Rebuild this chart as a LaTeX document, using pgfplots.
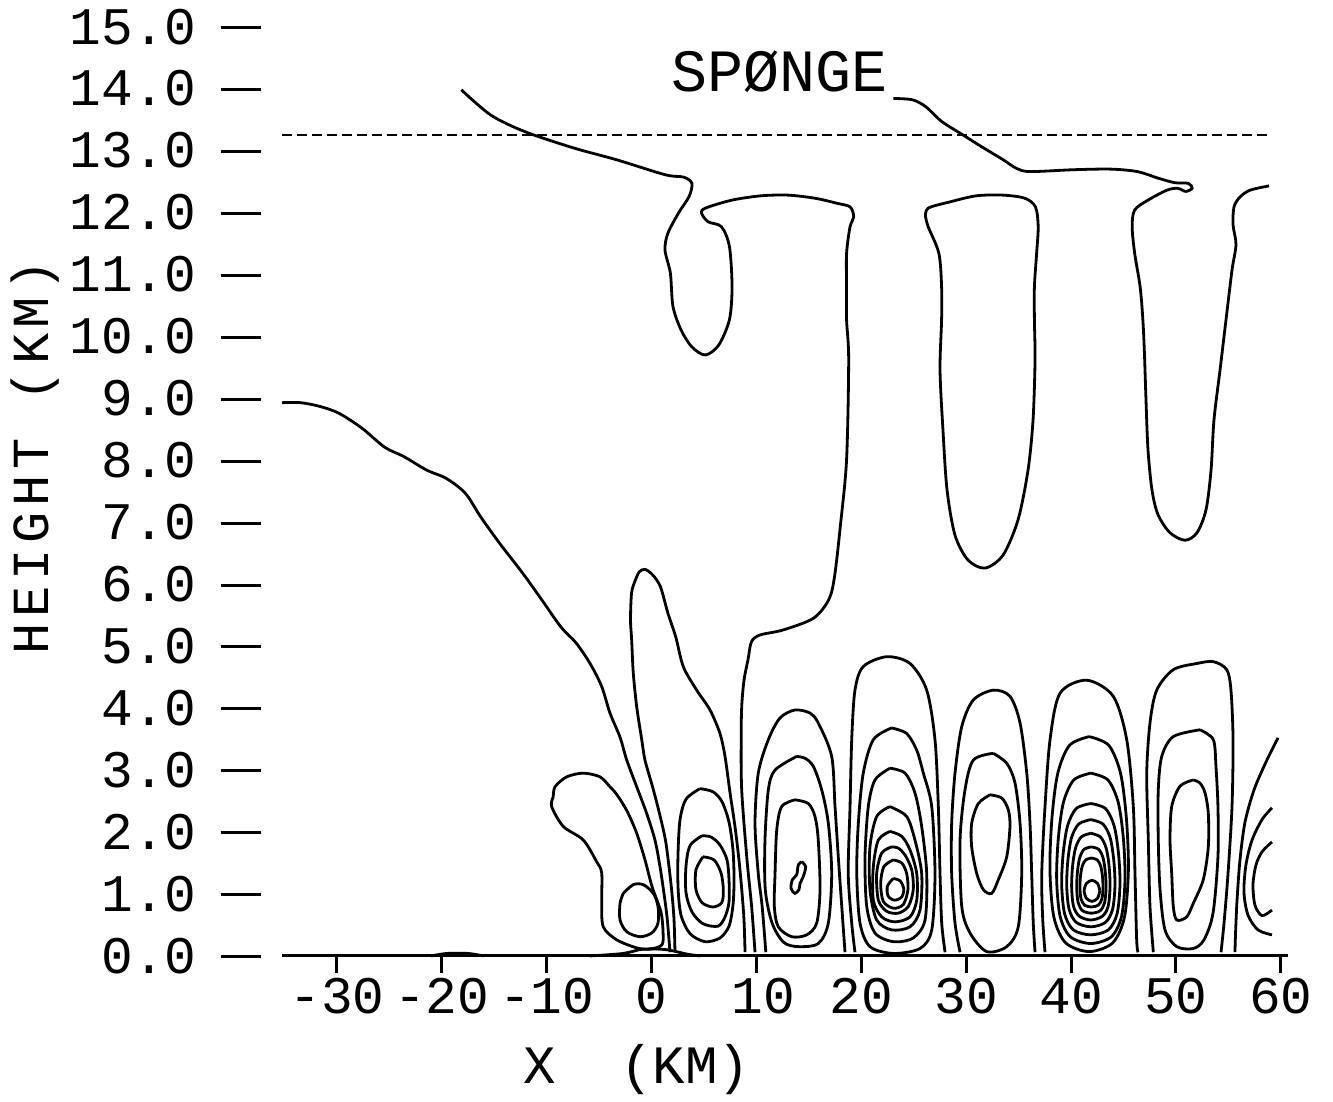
\documentclass[border=0pt]{standalone}
\usepackage{fontspec}
\usepackage{pgfplots}
\pgfplotsset{compat=1.18}
\newfontfamily\plotfont{Liberation Mono}
\newfontfamily\widefont[LetterSpace=11]{Liberation Mono}
\newcommand{\yl}[1]{#1\hspace{12pt}\rule[7.55pt]{20pt}{1.5pt}}
\begin{document}
\begin{tikzpicture}
\begin{axis}[
  at={(0,0)}, anchor=south west,
  scale only axis, width=503pt, height=464.65pt,
  xmin=-35.23, xmax=60.69, ymin=0, ymax=15,
  axis x line*=bottom, axis y line*=left,
  y axis line style={draw=none},
  x axis line style={line width=1.5pt,-},
  xtick={-30,-20,-10,0,10,20,30,40,50,60},
  xticklabels={-30,-20,-10,{0\hspace{12.7pt}},{\hspace{6.7pt}10},20,30,40,50,60},
  ytick={0,1,...,15},
  yticklabels={\yl{0.0},\yl{1.0},\yl{2.0},\yl{3.0},\yl{4.0},\yl{5.0},\yl{6.0},\yl{7.0},\yl{8.0},\yl{9.0},\yl{10.0},\yl{11.0},\yl{12.0},\yl{13.0},\yl{14.0},\yl{15.0}},
  tick align=outside,
  major tick length=8.5pt,
  xtick style={line width=1.5pt,black},
  ytick style={draw=none},
  xticklabel style={font=\plotfont\fontsize{26.4}{30}\selectfont, anchor=north, inner sep=0pt, yshift=-2.5pt},
  yticklabel style={font=\plotfont\fontsize{26.4}{30}\selectfont, anchor=east, inner sep=0pt, xshift=-2pt},
  clip=false,
  cont/.style={black, line width=1.4pt, smooth, tension=0.5, mark=none},
]
% sponge level
\addplot[black, line width=1.4pt, dash pattern=on 5pt off 2.5pt, mark=none] coordinates {(-35.23,13.25) (59.0,13.25)};
% T1: sponge curve, hook, long line and step down to ground
\addplot[cont] coordinates {(-18.13,13.98) (-15.30,13.57) (-12.00,13.30) (-7.39,13.04) (-3.31,12.85) (1.29,12.61) (3.08,12.57) (3.85,12.47) (3.59,12.26) (2.57,11.99) (1.55,11.66) (1.29,11.39) (1.80,11.02) (2.05,10.48) (2.83,10.10) (3.85,9.83) (5.13,9.70) (6.41,9.86) (7.43,10.27) (7.68,10.80) (7.43,11.45) (6.67,11.77) (5.39,11.85) (4.77,11.99) (5.13,12.07) (7.68,12.20) (10.49,12.27) (13.04,12.28) (15.59,12.23) (17.65,12.15) (18.93,12.09) (19.28,11.93) (18.93,11.77) (18.6,11.34) (18.6,10.80) (18.6,10.27) (18.8,9.62) (18.6,8.01) (18.0,6.93) (17.45,6.12) (16.90,5.75) (15.44,5.45) (12.52,5.26) (10.34,5.18) (9.53,5.07) (9.20,4.78) (8.82,4.45) (8.60,4.02) (8.55,3.49) (8.60,2.68) (9.08,1.60) (9.55,0.79) (9.87,0.06)};
% T2: right sponge curve and 51 km finger
\addplot[cont] coordinates {(23.06,13.84) (24.85,13.82) (26.13,13.71) (27.66,13.47) (29.71,13.25) (31.49,13.06) (33.54,12.85) (34.82,12.71) (36.10,12.66) (40.19,12.69) (43.78,12.70) (46.33,12.66) (48.38,12.55) (49.92,12.48) (51.19,12.47) (51.55,12.39) (50.94,12.34) (50.16,12.39) (49.14,12.36) (47.35,12.20) (46.07,12.04) (45.83,11.77) (46.07,11.34) (46.59,10.80) (46.85,10.27) (47.00,9.73) (47.15,8.97) (47.34,8.17) (47.72,7.52) (48.30,7.12) (49.44,6.83) (50.87,6.71) (52.01,6.83) (52.87,7.20) (53.35,7.84) (53.63,8.65) (54.21,9.46) (54.78,10.27) (55.35,11.07) (55.73,11.48) (55.45,11.80) (55.54,12.09) (56.11,12.25) (57.07,12.36) (58.88,12.43)};
% T3: 32 km finger
\addplot[cont] coordinates {(26.13,11.93) (26.38,12.07) (28.43,12.17) (30.99,12.27) (33.54,12.28) (35.59,12.23) (36.61,12.09) (36.87,11.77) (36.72,11.34) (36.51,10.80) (36.51,10.27) (36.57,9.62) (36.38,8.65) (35.90,7.84) (34.95,7.04) (33.52,6.47) (31.80,6.26) (30.18,6.39) (28.94,6.79) (28.18,7.52) (27.79,8.49) (27.51,9.46) (27.66,10.27) (27.66,10.80) (27.40,11.34) (26.38,11.77) (26.13,11.93)};
% L1: long curve from the left
\addplot[cont] coordinates {(-35.23,8.93) (-33.46,8.93) (-31.63,8.87) (-29.81,8.76) (-27.62,8.52) (-25.43,8.21) (-23.61,8.06) (-21.42,7.84) (-19.59,7.71) (-17.76,7.47) (-16.30,7.09) (-14.48,6.66) (-12.29,6.18) (-10.47,5.75) (-8.64,5.31) (-7.18,5.05) (-5.86,4.72) (-4.75,4.35) (-3.96,3.92) (-3.00,3.53) (-2.36,3.16) (-1.41,2.73) (-0.46,2.30) (0.33,1.87) (0.81,1.44) (1.19,1.01) (1.48,0.63) (1.67,0.26) (1.76,0.06)};
% finger near x = 0
\addplot[cont] coordinates {(2.24,0.06) (2.15,0.58) (1.95,1.01) (1.67,1.44) (1.33,1.87) (0.76,2.30) (0.10,2.73) (-0.62,3.16) (-0.93,3.49) (-1.41,4.02) (-1.74,4.57) (-1.89,5.10) (-2.00,5.42) (-1.90,5.86) (-1.53,6.07) (-1.16,6.20) (-0.62,6.24) (0.11,6.15) (0.85,5.96) (1.57,5.53) (2.31,5.15) (3.03,4.67) (4.31,4.29) (5.58,3.97) (6.53,3.59) (7.01,3.22) (7.49,2.63) (7.96,2.09) (8.34,1.55) (8.63,1.02) (8.82,0.58) (8.92,0.06)};
% left loop and its small inner loop
\addplot[cont] coordinates {(-9.36,2.57) (-9.20,2.73) (-8.09,2.89) (-6.50,2.95) (-4.91,2.89) (-3.96,2.73) (-3.29,2.60) (-2.34,2.34) (-1.41,1.98) (-0.62,1.55) (0.05,1.12) (0.90,0.71) (1.10,0.39) (1.00,0.18) (-0.14,0.11) (-1.41,0.13) (-3.32,0.26) (-4.60,0.47) (-4.75,0.86) (-4.75,1.34) (-5.23,1.52) (-6.50,1.87) (-8.41,2.09) (-9.52,2.41) (-9.36,2.57)};
\addplot[cont] coordinates {(-2.69,1.01) (-1.74,1.15) (-0.78,1.15) (0.17,1.01) (0.62,0.80) (0.62,0.53) (0.02,0.37) (-1.10,0.31) (-2.36,0.39) (-3.00,0.58) (-3.00,0.85) (-2.69,1.01)};
% low contours along the ground
\addplot[cont] coordinates {(-5.86,0.0) (-2.69,0.04) (-0.78,0.11) (1.45,0.10) (3.36,0.03) (4.62,0.0)};
\addplot[cont] coordinates {(-21.0,0.0) (-19.5,0.04) (-17.5,0.04) (-16.0,0.0)};
% 5 km cell
\addplot[cont] coordinates {(4.62,2.70) (5.86,2.65) (6.72,2.49) (7.39,2.16) (7.77,1.71) (7.87,1.23) (7.77,0.82) (7.39,0.48) (6.53,0.29) (5.10,0.23) (3.67,0.36) (2.81,0.66) (2.53,1.11) (2.53,1.66) (2.72,2.20) (3.29,2.53) (4.62,2.70)};
\addplot[cont] coordinates {(4.82,1.94) (5.67,1.92) (6.53,1.79) (7.20,1.55) (7.39,1.23) (7.39,0.87) (7.01,0.63) (6.34,0.48) (4.91,0.52) (3.86,0.71) (3.29,1.02) (3.29,1.45) (3.67,1.78) (4.82,1.94)};
\addplot[cont] coordinates {(4.91,1.60) (5.96,1.55) (6.63,1.34) (6.85,1.07) (6.70,0.86) (5.86,0.79) (4.82,0.86) (4.24,1.07) (4.24,1.39) (4.91,1.60)};
% 14 km cell
\addplot[cont] coordinates {(10.9,0.06) (10.55,0.80) (10.18,1.33) (9.87,2.14) (10.18,2.95) (11.14,3.49) (12.25,3.84) (13.68,3.97) (15.11,3.92) (15.90,3.76) (17.18,3.22) (17.50,2.41) (17.81,1.60) (18.14,0.80) (18.45,0.06)};
\addplot[cont] coordinates {(13.84,3.22) (14.64,3.19) (15.43,3.06) (16.23,2.68) (16.86,2.14) (17.18,1.33) (16.86,0.53) (15.90,0.20) (14.00,0.15) (12.6,0.22) (11.5,0.53) (10.85,1.07) (10.82,1.87) (11.14,2.68) (11.78,3.00) (13.84,3.22)};
\addplot[cont] coordinates {(13.68,2.52) (14.95,2.46) (15.59,2.25) (15.90,1.87) (16.07,1.07) (15.75,0.53) (14.80,0.34) (13.37,0.31) (12.09,0.47) (11.71,0.80) (11.78,1.33) (11.94,2.03) (12.41,2.41) (13.68,2.52)};
\addplot[cont] coordinates {(14.32,1.52) (14.70,1.44) (14.47,1.28) (14.16,1.17) (14.06,1.07) (13.68,1.01) (13.30,1.09) (13.43,1.23) (13.84,1.31) (14.00,1.47) (14.32,1.52)};
% 23 km cell
\addplot[cont] coordinates {(19.40,0.06) (19.09,0.53) (18.76,1.33) (18.93,2.41) (19.09,3.49) (19.40,4.29) (20.19,4.67) (22.43,4.83) (24.65,4.72) (26.24,4.29) (27.03,3.49) (27.35,2.41) (27.51,1.33) (27.67,0.53) (27.99,0.06)};
\addplot[cont] coordinates {(22.90,3.68) (24.33,3.59) (25.29,3.32) (25.92,2.95) (26.72,2.41) (27.03,1.33) (26.72,0.42) (25.60,0.12) (23.06,0.04) (20.83,0.15) (19.88,0.53) (19.57,1.33) (19.72,2.14) (20.19,2.95) (21.15,3.49) (22.90,3.68)};
\addplot[cont] coordinates {(22.74,3.03) (24.17,2.95) (25.12,2.63) (25.76,2.09) (26.24,1.33) (26.08,0.58) (24.96,0.29) (23.06,0.23) (21.31,0.37) (20.52,0.80) (20.36,1.60) (20.67,2.41) (21.31,2.84) (22.74,3.03)};
\addplot[cont] coordinates {(22.74,2.41) (24.33,2.25) (25.12,1.87) (25.76,1.33) (25.60,0.74) (24.65,0.47) (22.90,0.42) (21.47,0.58) (20.83,1.07) (20.83,1.76) (21.47,2.25) (22.74,2.41)};
\addplot[cont] coordinates {(22.74,2.01) (23.86,1.93) (24.65,1.71) (25.29,1.33) (25.29,0.90) (24.65,0.63) (23.22,0.55) (21.95,0.63) (21.15,0.90) (21.15,1.44) (21.63,1.87) (22.74,2.01)};
\addplot[cont] coordinates {(22.90,1.76) (23.53,1.74) (24.17,1.63) (24.81,1.39) (24.96,1.07) (24.49,0.80) (23.53,0.69) (22.43,0.72) (21.63,0.90) (21.47,1.33) (21.95,1.66) (22.90,1.76)};
\addplot[cont] coordinates {(23.06,1.55) (23.86,1.50) (24.33,1.33) (24.45,1.07) (24.01,0.83) (23.06,0.77) (22.10,0.88) (21.85,1.17) (22.15,1.44) (23.06,1.55)};
\addplot[cont] coordinates {(23.06,1.25) (23.72,1.21) (24.05,1.08) (23.85,0.95) (23.15,0.90) (22.55,0.97) (22.50,1.13) (23.06,1.25)};
% 32 km cell
\addplot[cont] coordinates {(29.42,0.06) (28.94,0.53) (28.62,1.33) (28.62,2.14) (28.94,2.95) (29.58,3.70) (30.68,4.13) (32.59,4.29) (34.18,4.19) (35.14,3.76) (35.78,2.95) (36.09,2.14) (36.25,1.33) (36.40,0.53) (36.57,0.06)};
\addplot[cont] coordinates {(32.59,3.27) (33.87,3.11) (34.66,2.79) (35.14,2.14) (35.30,1.33) (34.97,0.47) (33.87,0.15) (31.96,0.07) (30.37,0.37) (29.58,0.80) (29.42,1.87) (29.89,2.68) (30.68,3.16) (32.59,3.27)};
\addplot[cont] coordinates {(32.28,2.60) (33.39,2.55) (34.02,2.36) (34.18,2.09) (33.87,1.60) (33.07,1.23) (32.44,1.01) (31.64,1.07) (31.01,1.33) (30.53,1.76) (30.53,2.14) (31.16,2.46) (32.28,2.60)};
% 42 km cell
\addplot[cont] coordinates {(37.52,0.06) (37.30,0.60) (37.21,1.33) (37.52,2.41) (38.00,3.49) (38.95,4.24) (41.50,4.45) (44.03,4.19) (45.31,3.49) (45.94,2.41) (46.10,1.33) (46.26,0.26) (46.39,0.06)};
\addplot[cont] coordinates {(41.73,3.54) (43.60,3.40) (44.72,2.95) (45.28,2.22) (45.47,1.39) (45.10,0.63) (43.97,0.21) (41.73,0.07) (39.49,0.21) (38.36,0.63) (37.99,1.39) (38.18,2.22) (38.74,2.95) (39.86,3.40) (41.73,3.54)};
\addplot[cont] coordinates {(41.89,2.95) (43.52,2.84) (44.50,2.48) (44.99,1.90) (45.15,1.24) (44.82,0.64) (43.85,0.31) (41.89,0.20) (39.93,0.31) (38.96,0.64) (38.63,1.24) (38.79,1.90) (39.28,2.48) (40.26,2.84) (41.89,2.95)};
\addplot[cont] coordinates {(41.89,2.46) (43.28,2.38) (44.11,2.10) (44.53,1.65) (44.67,1.15) (44.39,0.68) (43.56,0.42) (41.89,0.34) (40.22,0.42) (39.39,0.68) (39.11,1.15) (39.25,1.65) (39.67,2.10) (40.50,2.38) (41.89,2.46)};
\addplot[cont] coordinates {(41.89,2.20) (43.04,2.13) (43.73,1.91) (44.08,1.54) (44.19,1.13) (43.96,0.75) (43.27,0.54) (41.89,0.47) (40.51,0.54) (39.82,0.75) (39.59,1.13) (39.70,1.54) (40.05,1.91) (40.74,2.13) (41.89,2.20)};
\addplot[cont] coordinates {(41.89,1.98) (42.81,1.92) (43.35,1.74) (43.63,1.45) (43.72,1.11) (43.54,0.80) (42.99,0.64) (41.89,0.58) (40.79,0.64) (40.24,0.80) (40.06,1.11) (40.15,1.45) (40.43,1.74) (40.97,1.92) (41.89,1.98)};
\addplot[cont] coordinates {(41.94,1.76) (42.64,1.72) (43.06,1.58) (43.27,1.35) (43.34,1.10) (43.20,0.86) (42.78,0.73) (41.94,0.69) (41.10,0.73) (40.68,0.86) (40.54,1.10) (40.61,1.35) (40.82,1.58) (41.24,1.72) (41.94,1.76)};
\addplot[cont] coordinates {(41.95,1.58) (42.50,1.55) (42.83,1.45) (43.00,1.28) (43.05,1.09) (42.94,0.92) (42.61,0.82) (41.95,0.79) (41.29,0.82) (40.96,0.92) (40.85,1.09) (40.90,1.28) (41.07,1.45) (41.40,1.55) (41.95,1.58)};
\addplot[cont] coordinates {(42.75,1.05) (42.53,1.17) (42.00,1.22) (41.47,1.17) (41.25,1.05) (41.47,0.93) (42.00,0.88) (42.53,0.93) (42.75,1.05)};
% 51 km cell
\addplot[cont] coordinates {(47.85,0.06) (47.53,0.80) (47.37,1.87) (47.22,2.95) (47.53,3.76) (48.17,4.29) (49.75,4.62) (51.99,4.72) (53.57,4.75) (54.85,4.62) (55.25,4.29) (55.45,3.49) (55.35,2.41) (54.97,1.33) (54.59,0.53) (54.30,0.06)};
\addplot[cont] coordinates {(52.30,3.65) (53.57,3.49) (53.82,3.06) (54.01,2.41) (54.01,1.60) (53.54,0.69) (52.68,0.26) (51.66,0.12) (50.08,0.15) (48.96,0.42) (48.49,1.07) (48.32,1.87) (48.32,2.68) (48.65,3.22) (49.75,3.54) (52.30,3.65)};
\addplot[cont] coordinates {(51.66,2.84) (52.30,2.79) (52.78,2.63) (53.09,2.30) (53.09,1.76) (52.61,1.23) (51.66,0.85) (51.03,0.63) (50.08,0.58) (49.75,0.80) (49.60,1.33) (49.44,1.87) (49.60,2.41) (50.39,2.74) (51.66,2.84)};
% partial cell at the right edge
\addplot[cont] coordinates {(59.74,3.52) (58.59,3.13) (57.45,2.68) (56.59,2.16) (56.11,1.55) (55.83,0.90) (55.70,0.42) (55.63,0.06)};
\addplot[cont] coordinates {(59.16,2.39) (58.21,2.20) (57.26,1.87) (56.68,1.47) (56.49,1.03) (56.87,0.66) (57.83,0.42) (59.16,0.34)};
\addplot[cont] coordinates {(59.16,1.84) (58.21,1.68) (57.64,1.47) (57.35,1.15) (57.54,0.82) (58.21,0.65) (59.16,0.74)};
% texts
\node[font=\plotfont\fontsize{30}{34}\selectfont] at (axis cs:12.16,14.28) {SPØNGE};
\node[font=\plotfont\fontsize{27}{31}\selectfont] at (axis cs:-1.43,-1.84) {X\ \ (KM)};
\node[font=\widefont\fontsize{26}{30}\selectfont, rotate=90] at (axis cs:-58.78,8.05) {HEIGHT (KM)};
\coordinate (bbsw) at (axis cs:-62.12,-2.356);
\coordinate (bbne) at (axis cs:64.98,15.43);
\end{axis}
\pgfresetboundingbox
\path (bbsw) rectangle (bbne);
\end{tikzpicture}
\end{document}
